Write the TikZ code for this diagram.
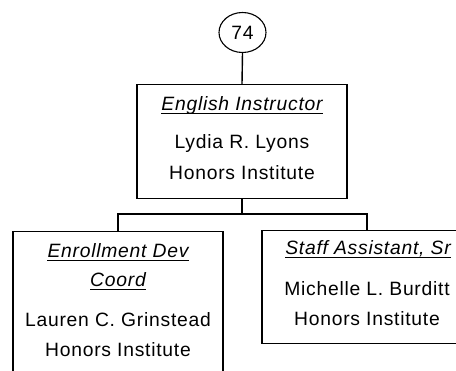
\documentclass[tikz,border=0pt]{standalone}
\usepackage{fontspec}
\setmainfont{Liberation Sans}[LetterSpace=3.9]
\usetikzlibrary{shapes.geometric}
\begin{document}
\begin{tikzpicture}[x=1pt,y=-1pt,
  box/.style={draw=black,line width=1.4pt,rectangle,inner sep=0pt,anchor=north,fill=white},
  conn/.style={draw=black,line width=1.4pt},
  txt/.style={inner sep=0pt,anchor=base,font=\fontsize{19.3}{22}\selectfont},
  ttl/.style={txt,font=\fontsize{19.3}{22}\selectfont\itshape},
  uline/.style={draw=black,line width=1.3pt}]
\useasboundingbox (0,0) rectangle (456,371);
\clip (0,0) rectangle (456,371);
% nodes
\node[draw=black,line width=1.1pt,ellipse,minimum width=47pt,minimum height=40pt,inner sep=0pt,font=\fontsize{19.3}{22}\selectfont] (c) at (242.5,32.5) {74};
\node[box,minimum width=210pt,minimum height=114pt] (top) at (242,84) {};
\node[box,minimum width=210pt,minimum height=180pt] (lb) at (118,231) {};
\node[box,minimum width=210pt,minimum height=113pt] (rb) at (367,230) {};
\coordinate (j) at (242,214);
% connectors
\draw[conn] (c.south) -- (top.north);
\draw[conn] (top.south) -- (j);
\draw[conn] (lb.north) |- (j) -| (rb.north);
% texts top
\node[ttl] (t1) at (242,111) {English Instructor};
\draw[uline] ([yshift=-2.6pt]t1.base west) -- ([yshift=-2.6pt]t1.base east);
\node[txt] (t2) at (242,149) {Lydia R. Lyons};
\node[txt] (t3) at (242,180) {Honors Institute};
% texts left
\node[ttl] (l1) at (118,258) {Enrollment Dev\ };
\draw[uline] ([yshift=-2.6pt]l1.base west) -- ([yshift=-2.6pt]l1.base east);
\node[ttl] (l2) at (118,287) {Coord};
\draw[uline] ([yshift=-2.6pt]l2.base west) -- ([yshift=-2.6pt]l2.base east);
\node[txt] (l3) at (118,327) {Lauren C. Grinstead};
\node[txt] (l4) at (118,357) {Honors Institute};
% texts right
\node[ttl] (r1) at (368,255) {Staff Assistant, Sr};
\draw[uline] ([yshift=-2.6pt]r1.base west) -- ([yshift=-2.6pt]r1.base east);
\node[txt] (r2) at (367,296) {Michelle L. Burditt};
\node[txt] (r3) at (367,326) {Honors Institute};
\end{tikzpicture}
\end{document}
